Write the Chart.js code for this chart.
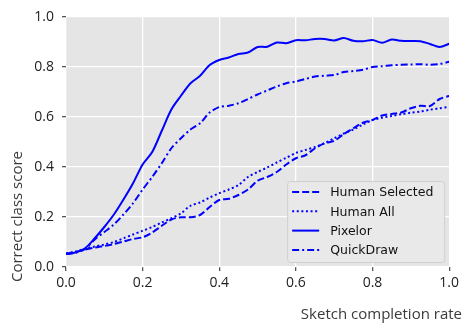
<!DOCTYPE html>
<html>
<head>
<meta charset="utf-8">
<script src="https://cdn.jsdelivr.net/npm/chart.js@4.4.1/dist/chart.umd.min.js"></script>
<style>
  html, body { margin: 0; padding: 0; background: #fff; }
  #wrap { width: 463px; height: 326px; }
</style>
</head>
<body>
<div id="wrap"><canvas id="chart" width="463" height="326"></canvas></div>
<script>
// completion rate sampled every 0.025
const completion = [0, 0.025, 0.05, 0.075, 0.1, 0.125, 0.15, 0.175, 0.2, 0.225, 0.25, 0.275, 0.3, 0.325, 0.35, 0.375, 0.4, 0.425, 0.45, 0.475, 0.5,
  0.525, 0.55, 0.575, 0.6, 0.625, 0.65, 0.675, 0.7, 0.725, 0.75, 0.775, 0.8, 0.825, 0.85, 0.875, 0.9, 0.925, 0.95, 0.975, 1.0];

const humanSelected = [0.052, 0.06, 0.07, 0.078, 0.084, 0.092, 0.102, 0.112, 0.119, 0.138, 0.165, 0.19, 0.199, 0.199, 0.208, 0.24, 0.268, 0.273, 0.288, 0.31, 0.345,
  0.36, 0.38, 0.41, 0.435, 0.447, 0.475, 0.495, 0.505, 0.532, 0.555, 0.577, 0.588, 0.606, 0.612, 0.618, 0.635, 0.645, 0.644, 0.672, 0.684];

const humanAll = [0.055, 0.062, 0.073, 0.082, 0.09, 0.1, 0.115, 0.13, 0.145, 0.16, 0.178, 0.195, 0.215, 0.245, 0.258, 0.278, 0.295, 0.31, 0.328, 0.36, 0.38,
  0.398, 0.418, 0.437, 0.456, 0.468, 0.48, 0.495, 0.515, 0.534, 0.55, 0.57, 0.588, 0.597, 0.604, 0.611, 0.617, 0.622, 0.629, 0.635, 0.641];

const pixelor = [0.052, 0.058, 0.075, 0.115, 0.16, 0.21, 0.27, 0.335, 0.41, 0.46, 0.545, 0.63, 0.685, 0.735, 0.765, 0.808, 0.828, 0.838, 0.852, 0.858, 0.88,
  0.881, 0.898, 0.895, 0.907, 0.907, 0.912, 0.912, 0.906, 0.916, 0.905, 0.903, 0.908, 0.897, 0.91, 0.905, 0.904, 0.903, 0.892, 0.88, 0.893];

const quickDraw = [0.052, 0.057, 0.072, 0.11, 0.14, 0.17, 0.21, 0.255, 0.31, 0.36, 0.415, 0.475, 0.515, 0.55, 0.575, 0.618, 0.64, 0.645, 0.655, 0.672, 0.69,
  0.706, 0.722, 0.735, 0.742, 0.752, 0.762, 0.765, 0.768, 0.78, 0.784, 0.789, 0.8, 0.803, 0.807, 0.809, 0.81, 0.811, 0.809, 0.812, 0.821];

const seriesNames = ["Human Selected", "Human All", "Pixelor", "QuickDraw"];
const xTicks = [0, 0.2, 0.4, 0.6, 0.8, 1.0];
const yTicks = [0, 0.2, 0.4, 0.6, 0.8, 1.0];

const BLUE = "#0000ff";

function toPoints(values) {
  return completion.map((x, i) => ({ x: x, y: values[i] }));
}

// grey panel behind the plot
const panelBg = {
  id: "panelBg",
  beforeDraw(chart) {
    const { ctx, chartArea: a } = chart;
    ctx.save();
    ctx.fillStyle = "#e5e5e5";
    ctx.fillRect(a.left, a.top, a.right - a.left, a.bottom - a.top);
    ctx.restore();
  },
};

// axis titles sit off-centre in the reference, so draw them by hand
const axisTitles = {
  id: "axisTitles",
  afterDraw(chart) {
    const { ctx } = chart;
    ctx.save();
    ctx.fillStyle = "#3a3a3a";
    ctx.font = "15px 'Open Sans'";
    ctx.textAlign = "right";
    ctx.textBaseline = "alphabetic";
    ctx.fillText("Sketch completion rate", 462, 319);

    ctx.translate(22, 282);
    ctx.rotate(-Math.PI / 2);
    ctx.textAlign = "left";
    ctx.fillText("Correct class score", 0, 0);
    ctx.restore();
  },
};

// legend box in the lower right corner of the panel
const boxLegend = {
  id: "boxLegend",
  afterDraw(chart) {
    const { ctx, chartArea: a } = chart;
    const w = 157, h = 81;
    const left = a.right - 5 - w;
    const top = a.bottom - 5 - h;
    ctx.save();
    ctx.fillStyle = "#e9e9e9";
    ctx.strokeStyle = "#cfcfcf";
    ctx.lineWidth = 1;
    ctx.beginPath();
    ctx.roundRect(left + 0.5, top + 0.5, w, h, 3);
    ctx.fill();
    ctx.stroke();

    ctx.font = "12.5px 'DejaVu Sans'";
    ctx.textBaseline = "middle";
    ctx.fillStyle = "#111";
    chart.data.datasets.forEach((ds, i) => {
      const y = top + 11 + i * 19.3;
      ctx.strokeStyle = ds.borderColor;
      ctx.lineWidth = ds.borderWidth;
      ctx.setLineDash(ds.borderDash || []);
      ctx.beginPath();
      ctx.moveTo(left + 5, y);
      ctx.lineTo(left + 32, y);
      ctx.stroke();
      ctx.setLineDash([]);
      ctx.fillText(ds.label, left + 43, y + 1);
    });
    ctx.restore();
  },
};

const lineStyles = [[7, 3], [2, 2.6], [], [7, 3, 2, 3]];
const allSeries = [humanSelected, humanAll, pixelor, quickDraw];

new Chart(document.getElementById("chart"), {
  type: "line",
  data: {
    datasets: allSeries.map((values, i) => ({
      label: seriesNames[i],
      data: toPoints(values),
      borderColor: BLUE,
      borderWidth: 2,
      borderDash: lineStyles[i],
      pointRadius: 0,
      tension: 0.3,
      fill: false,
    })),
  },
  options: {
    responsive: false,
    animation: false,
    layout: { padding: { left: 0, top: 17, right: 11, bottom: 0 } },
    plugins: {
      legend: { display: false },
      tooltip: { enabled: false },
    },
    scales: {
      x: {
        type: "linear",
        min: 0,
        max: 1,
        afterFit(scale) { scale.height = 59; },
        afterBuildTicks(scale) { scale.ticks = xTicks.map((v) => ({ value: v })); },
        border: { display: false },
        grid: { color: "#ffffff", lineWidth: 1.3, tickColor: "#555", tickLength: 4 },
        ticks: {
          color: "#222",
          font: { family: "'Open Sans'", size: 14 },
          padding: 4,
          maxRotation: 0,
          callback: (v) => v.toFixed(1),
        },
      },
      y: {
        min: 0,
        max: 1,
        afterFit(scale) { scale.width = 66; },
        afterBuildTicks(scale) { scale.ticks = yTicks.map((v) => ({ value: v })); },
        border: { display: false },
        grid: { color: "#ffffff", lineWidth: 1.3, tickColor: "#555", tickLength: 4 },
        ticks: {
          color: "#222",
          font: { family: "'Open Sans'", size: 14 },
          padding: 8,
          callback: (v) => v.toFixed(1),
        },
      },
    },
  },
  plugins: [panelBg, axisTitles, boxLegend],
});
</script>
</body>
</html>
